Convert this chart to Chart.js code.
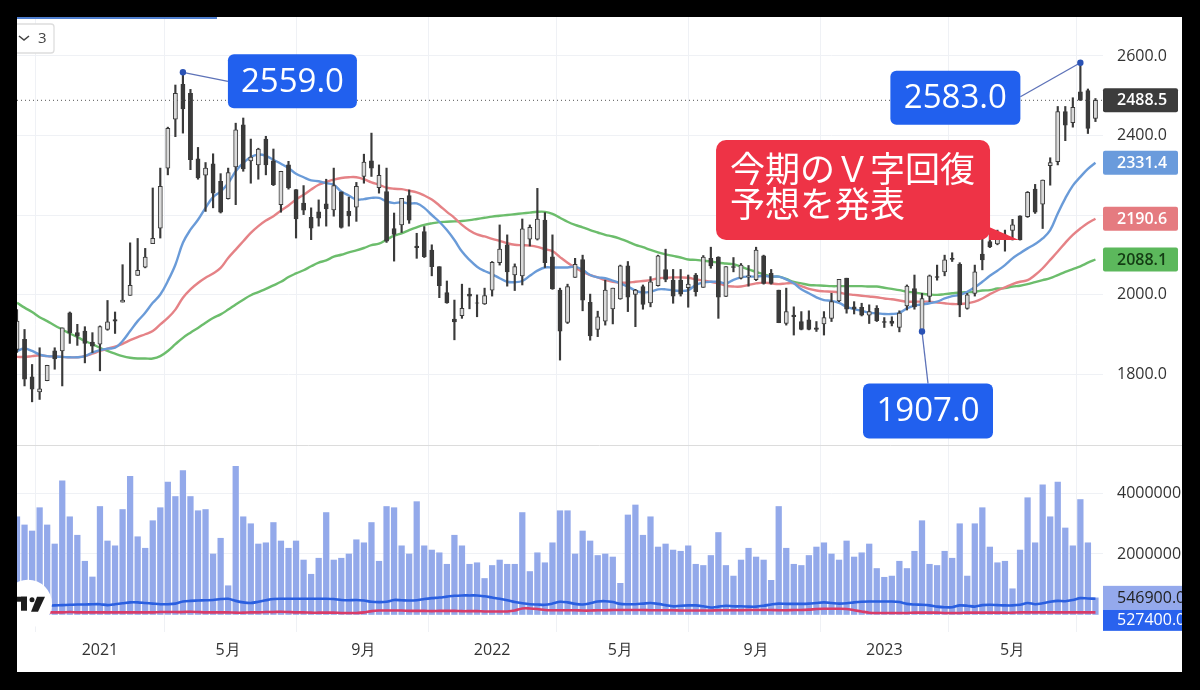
<!DOCTYPE html>
<html>
<head>
<meta charset="utf-8">
<title>chart</title>
<script src="https://cdn.jsdelivr.net/npm/chart.js@4"></script>
<style>
html, body { margin: 0; padding: 0; background: #000; width: 1200px; height: 690px; overflow: hidden; }
#chart { position: absolute; left: 17px; top: 17px; background: #fff; filter: blur(0.45px); }
</style>
</head>
<body>
<canvas id="chart" width="1165" height="655"></canvas>
<script>
var opens = [
    1862,1887,1793,1755,1783,1858,1858,1954,1904,1908,
    1880,1875,1912,1937,1981,1998,2048,2069,2128,2167,
    2318,2441,2529,2506,2341,2300,2329,2285,2241,2321,
    2427,2336,2326,2391,2336,2226,2326,2264,2230,2194,
    2208,2228,2213,2258,2209,2220,2297,2336,2269,2259,
    2166,2175,2249,2122,2158,2112,2070,2005,1938,1947,
    2001,1979,1976,2011,2080,2125,2049,2047,2139,2139,
    2187,2095,2011,1930,2043,2088,1980,1912,1933,1964,
    1989,2072,2000,2020,1979,2022,2063,2036,2036,2017,
    2049,2018,2091,2094,1995,2070,2041,2045,2037,2097,
    2053,2011,1927,1948,1932,1936,1916,1926,1940,1984,
    2041,1969,1968,1948,1965,1932,1933,1917,1971,2015,
    1907,1995,2045,2057,2091,2076,1965,2003,2102,2133,
    2127,2148,2161,2198,2196,2265,2227,2324,2334,2460,
    2432,2510,2513,2443];
var closes = [
    1933,1787,1762,1763,1822,1838,1916,1904,1895,1877,
    1870,1919,1931,1933,1986,2023,2061,2094,2141,2272,
    2418,2506,2467,2339,2293,2318,2255,2207,2307,2414,
    2316,2346,2366,2326,2276,2310,2268,2190,2212,2167,
    2192,2215,2274,2169,2198,2272,2333,2318,2300,2134,
    2151,2242,2187,2118,2095,2070,2022,1979,1931,1965,
    1996,1978,1997,2081,2114,2057,2070,2165,2169,2190,
    2080,2014,1908,2020,2076,1986,1896,1944,2011,2016,
    2072,1993,2011,1975,2032,2097,2038,1996,2001,2026,
    2007,2094,2072,1993,2070,2068,2074,2047,2112,2028,
    2028,1929,1957,1944,1912,1912,1912,1942,1982,2038,
    1963,1963,1948,1957,1934,1930,1927,1953,2021,1969,
    1990,2047,2043,2087,2088,1974,1999,2057,2087,2120,
    2146,2150,2175,2137,2257,2207,2288,2332,2460,2426,
    2471,2489,2418,2488.5];
var highs = [
    1962,1912,1824,1866,1822,1866,1916,1956,1925,1919,
    1904,1921,1985,1956,2075,2130,2141,2116,2268,2318,
    2421,2527,2559,2516,2370,2332,2354,2304,2318,2431,
    2444,2391,2368,2398,2366,2310,2335,2264,2274,2218,
    2238,2290,2318,2258,2245,2282,2353,2406,2326,2318,
    2205,2242,2263,2154,2171,2125,2070,2034,1986,2026,
    2016,1999,2016,2083,2175,2150,2077,2190,2175,2267,
    2206,2150,2016,2026,2091,2099,2001,1958,2036,2016,
    2074,2083,2013,2024,2045,2099,2114,2063,2063,2049,
    2053,2098,2119,2095,2070,2093,2078,2073,2119,2099,
    2063,2011,2016,1969,1957,1959,1932,1957,2003,2038,
    2041,1982,1978,1974,1972,1942,1944,1959,2024,2049,
    2003,2049,2074,2099,2105,2080,2003,2074,2150,2154,
    2162,2162,2189,2198,2259,2277,2288,2344,2473,2473,
    2495,2583,2517,2493];
var lows = [
    1854,1770,1730,1736,1783,1812,1770,1877,1872,1828,
    1854,1808,1910,1902,1981,1998,2048,2067,2128,2142,
    2301,2397,2406,2314,2290,2209,2218,2205,2240,2226,
    2310,2280,2290,2301,2274,2207,2265,2142,2201,2138,
    2172,2172,2197,2167,2172,2184,2280,2297,2255,2131,
    2084,2156,2179,2091,2093,2047,1992,1978,1886,1940,
    1964,1944,1975,1996,2074,2021,2010,2024,2122,2137,
    2068,2013,1835,1927,2043,1959,1885,1894,1923,1926,
    1988,1957,1919,1963,1969,2021,2032,1978,1996,1968,
    1996,2018,2066,1940,1995,2057,2039,2021,2035,2026,
    2026,1929,1923,1898,1911,1911,1907,1898,1932,1982,
    1953,1951,1946,1927,1932,1917,1921,1906,1961,1963,
    1907,1982,2036,2047,2083,1944,1963,1996,2062,2118,
    2125,2109,2137,2137,2194,2204,2166,2275,2326,2387,
    2421,2488,2405,2435];

var maFast = [
    1858,1864,1858,1849,1845,1844,1843,1842,1842,1845,
    1854,1860,1864,1866,1883,1908,1933,1954,1979,2000,
    2034,2075,2130,2163,2188,2218,2245,2259,2280,2310,
    2331,2346,2352,2349,2339,2329,2318,2304,2295,2287,
    2285,2280,2276,2259,2249,2239,2240,2243,2243,2234,
    2230,2232,2229,2229,2218,2200,2183,2162,2137,2108,
    2087,2070,2059,2051,2041,2032,2031,2034,2047,2060,
    2068,2068,2068,2068,2070,2062,2049,2043,2041,2035,
    2028,2020,2010,2005,2007,2013,2013,2010,2009,2011,
    2024,2030,2032,2032,2028,2037,2043,2045,2045,2047,
    2045,2045,2038,2028,2013,2003,1993,1986,1984,1979,
    1969,1963,1959,1954,1953,1951,1951,1954,1965,1972,
    1975,1978,1982,1990,1996,1999,2007,2018,2032,2047,
    2060,2074,2091,2104,2116,2127,2141,2162,2204,2242,
    2274,2296,2316,2331.4];
var maMid = [
    1843,1843,1845,1847,1845,1844,1843,1842,1842,1845,
    1851,1858,1864,1869,1876,1885,1893,1900,1908,1925,
    1941,1962,1992,2013,2029,2042,2053,2067,2092,2113,
    2134,2155,2172,2186,2197,2211,2224,2239,2251,2264,
    2276,2283,2289,2293,2295,2295,2290,2282,2276,2269,
    2266,2265,2261,2257,2249,2239,2224,2208,2193,2175,
    2161,2151,2146,2140,2135,2129,2125,2124,2123,2120,
    2114,2109,2094,2080,2068,2057,2049,2043,2036,2032,
    2030,2030,2032,2034,2036,2041,2042,2043,2043,2042,
    2038,2035,2032,2028,2022,2020,2020,2024,2028,2030,
    2028,2026,2028,2028,2021,2014,2010,2008,2007,2005,
    2001,1999,1997,1995,1993,1990,1988,1985,1982,1982,
    1982,1982,1980,1978,1976,1976,1978,1982,1990,2001,
    2010,2018,2026,2032,2036,2049,2066,2087,2108,2130,
    2150,2166,2180,2190.6];
var maSlow = [
    1979,1967,1956,1943,1933,1922,1912,1902,1893,1883,
    1875,1866,1858,1851,1845,1841,1839,1839,1839,1845,
    1858,1875,1891,1904,1916,1929,1941,1950,1962,1975,
    1987,1998,2006,2014,2023,2032,2044,2053,2061,2071,
    2080,2086,2095,2100,2106,2111,2117,2124,2128,2138,
    2148,2154,2162,2169,2175,2179,2182,2183,2184,2185,
    2187,2190,2193,2196,2198,2200,2202,2204,2206,2208,
    2208,2203,2193,2183,2175,2169,2162,2156,2150,2146,
    2140,2133,2125,2119,2112,2106,2101,2097,2093,2088,
    2087,2085,2083,2080,2078,2076,2070,2063,2057,2051,
    2045,2045,2039,2032,2028,2024,2023,2022,2021,2021,
    2021,2021,2021,2020,2020,2017,2014,2011,2007,2005,
    2002,2000,1999,2001,2003,2005,2006,2007,2010,2011,
    2015,2016,2020,2022,2026,2031,2036,2041,2049,2057,
    2064,2071,2080,2088.1];

// volume pane, in millions of shares
var volume = [
    3.23,2.96,2.76,3.53,2.96,2.33,4.42,3.23,2.62,1.76,
    1.24,3.57,2.43,2.27,3.47,4.57,2.57,2.19,3.10,3.53,
    4.38,3.90,4.76,3.90,3.43,3.47,2.00,2.52,0.95,4.90,
    3.23,3.00,2.33,2.37,3.04,2.43,2.19,2.43,1.80,1.33,
    1.86,3.37,1.80,1.86,2.00,2.47,2.37,3.04,1.76,3.57,
    3.53,2.27,2.00,3.73,2.27,2.13,2.04,1.66,2.62,2.27,
    1.66,1.71,1.19,1.62,1.80,1.66,1.66,3.37,1.42,2.04,
    1.71,2.37,3.43,3.43,2.00,2.76,2.43,1.95,2.00,1.90,
    1.03,3.29,3.62,2.62,3.23,2.23,2.33,2.13,2.09,2.27,
    1.66,1.62,1.95,2.71,1.62,1.27,1.80,2.19,1.90,1.80,
    1.13,3.57,2.19,1.66,1.62,1.95,2.23,2.37,2.00,1.80,
    2.43,1.90,2.04,2.33,1.52,1.23,1.27,1.76,1.52,2.09,
    3.10,1.66,1.62,2.09,1.86,3.00,1.27,3.00,3.53,2.23,
    1.71,1.76,0.85,2.13,3.86,2.37,4.29,3.23,4.38,2.86,
    2.27,3.80,2.37,0.55];
var volLineBlue = [
    .29,.29,.29,.29,.29,.30,.31,.32,.33,.33,
    .34,.34,.31,.34,.37,.40,.40,.38,.36,.34,
    .34,.36,.43,.45,.46,.47,.48,.51,.52,.45,
    .40,.38,.42,.47,.51,.52,.52,.52,.52,.52,
    .52,.52,.51,.48,.47,.48,.46,.42,.41,.42,
    .48,.47,.46,.47,.51,.54,.56,.59,.62,.63,
    .63,.63,.60,.56,.52,.47,.41,.37,.34,.33,
    .32,.36,.42,.40,.35,.33,.37,.43,.44,.41,
    .35,.34,.34,.36,.38,.35,.31,.27,.29,.30,
    .30,.27,.23,.26,.29,.27,.27,.26,.26,.29,
    .33,.36,.35,.35,.35,.36,.38,.40,.38,.36,
    .37,.40,.42,.43,.43,.43,.43,.41,.35,.33,
    .32,.30,.26,.24,.24,.30,.29,.26,.31,.32,
    .31,.30,.30,.32,.38,.34,.37,.42,.45,.44,
    .48,.54,.53,.52];
var volLineRed = [
    .07,.07,.07,.07,.07,.07,.07,.08,.07,.07,
    .07,.07,.07,.07,.07,.07,.07,.07,.07,.08,
    .08,.08,.08,.09,.08,.07,.07,.07,.07,.06,
    .06,.07,.07,.08,.08,.09,.08,.07,.07,.06,
    .06,.06,.06,.05,.05,.05,.07,.11,.13,.13,
    .13,.13,.12,.12,.12,.11,.12,.12,.12,.11,
    .11,.11,.10,.10,.10,.10,.13,.20,.20,.18,
    .15,.14,.14,.14,.14,.13,.13,.14,.14,.15,
    .15,.15,.15,.15,.14,.14,.14,.14,.13,.13,
    .13,.13,.13,.14,.14,.14,.14,.15,.15,.15,
    .15,.14,.14,.15,.15,.16,.18,.19,.19,.19,
    .18,.14,.10,.06,.05,.05,.05,.05,.05,.06,
    .06,.06,.06,.05,.05,.05,.06,.06,.06,.06,
    .06,.06,.06,.07,.07,.07,.07,.07,.07,.07,
    .07,.07,.07,.07];

var categories = [];
for (var w = 0; w < 145; w++) categories.push(w);  // one free slot right of the last candle

var xTickIndex = [11, 28, 46, 63, 80, 98, 115, 132];
var xTickLabels = ["2021", "5月", "9月", "2022", "5月", "9月", "2023", "5月"];
var priceTicks = [1800, 2000, 2200, 2400, 2600];
var volumeTicks = [2000000, 4000000];

var lastVolumeLabel = "546900.0";
var lastAvgLabel = "527400.0";
var noteLines = ["今期のＶ字回復", "予想を発表"];
var noteIndex = 133;
var peakIndex = [22, 141, 120];
var peakValue = [2559, 2583, 1907];

var textFont = '"Open Sans", sans-serif';
var darkCandle = "#3a3a3a";
var lightCandle = "#d9d9d9";

function wickData() {
    return lows.map(function (l, i) { return [l, highs[i]]; });
}

function bodyData() {
    return opens.map(function (o, i) { return [o, closes[i]]; });
}

function roundRect(ctx, x, y, w, h, r, color) {
    ctx.beginPath();
    ctx.roundRect(x, y, w, h, r);
    ctx.fillStyle = color;
    ctx.fill();
}

function drawPill(ctx, chart, y, h, text, bg, fg, weight) {
    var x = chart.chartArea.right;
    roundRect(ctx, x, y - h / 2, 75, h, 2, bg);
    ctx.fillStyle = fg;
    ctx.font = weight + " 16px " + textFont;
    ctx.textAlign = "left";
    ctx.textBaseline = "middle";
    ctx.fillText(text, x + 14, y + 0.5);
}

// blue price callout: dot on the candle, a thin leader, then the box
function drawCallout(ctx, chart, n, dx, dy, w, h, endX, endY) {
    var px = chart.scales.x.getPixelForValue(peakIndex[n]);
    var py = chart.scales.y.getPixelForValue(peakValue[n]);
    ctx.strokeStyle = "#5d72b8";
    ctx.lineWidth = 1.3;
    ctx.beginPath();
    ctx.moveTo(px, py);
    ctx.lineTo(px + endX, py + endY);
    ctx.stroke();
    ctx.beginPath();
    ctx.arc(px, py, 3.2, 0, Math.PI * 2);
    ctx.fillStyle = "#2a52b5";
    ctx.fill();
    roundRect(ctx, px + dx, py + dy, w, h, 6, "#2160ee");
    ctx.fillStyle = "#fff";
    ctx.font = "500 33px " + textFont;
    ctx.textAlign = "center";
    ctx.textBaseline = "middle";
    ctx.fillText(peakValue[n].toFixed(1), px + dx + w / 2, py + dy + h / 2 + 1);
}

function drawNote(ctx, chart) {
    var tipX = chart.scales.x.getPixelForValue(noteIndex);
    var tipY = chart.scales.y.getPixelForValue(lows[noteIndex]);
    var left = tipX - 304, right = tipX - 30, top = tipY - 100;
    ctx.fillStyle = "#ee3346";
    roundRect(ctx, left, top, right - left, 100, 10, "#ee3346");
    ctx.beginPath();
    ctx.moveTo(right - 1, tipY - 13);
    ctx.lineTo(tipX - 1, tipY);
    ctx.lineTo(right - 1, tipY);
    ctx.closePath();
    ctx.fill();
    ctx.fillStyle = "#fff";
    ctx.font = '35px "Noto Sans CJK JP", sans-serif';
    ctx.textAlign = "left";
    ctx.textBaseline = "middle";
    ctx.fillText(noteLines[0], left + 14, top + 29);
    ctx.fillText(noteLines[1], left + 14, top + 64);
}

function drawLogo(ctx, chart) {
    var cy = chart.scales.yVol.getPixelForValue(volLineBlue[0] * 1000000) - 2;
    ctx.beginPath();
    ctx.arc(11, cy, 24, 0, Math.PI * 2);
    ctx.fillStyle = "#fff";
    ctx.fill();
    ctx.fillStyle = "#1c1c1c";
    ctx.fillRect(0, cy - 7, 10, 5);
    ctx.fillRect(4, cy - 7, 6, 14);
    ctx.beginPath();
    ctx.arc(15, cy - 4, 2.5, 0, Math.PI * 2);
    ctx.fill();
    ctx.beginPath();
    ctx.moveTo(20, cy - 7);
    ctx.lineTo(28, cy - 7);
    ctx.lineTo(21, cy + 8);
    ctx.lineTo(14, cy + 8);
    ctx.closePath();
    ctx.fill();
}

var overlayPlugin = {
    id: "overlay",
    afterDraw: function (chart) {
        var ctx = chart.ctx;
        var area = chart.chartArea;
        var y = chart.scales.y;
        var yVol = chart.scales.yVol;
        ctx.save();

        // divider between price and volume panes
        ctx.strokeStyle = "#dcdcdc";
        ctx.lineWidth = 1;
        ctx.beginPath();
        ctx.moveTo(area.left, y.bottom + 0.5);
        ctx.lineTo(chart.width, y.bottom + 0.5);
        ctx.stroke();

        // dotted last price line
        var lastY = y.getPixelForValue(closes[closes.length - 1]);
        ctx.strokeStyle = "#555";
        ctx.setLineDash([1, 3]);
        ctx.beginPath();
        ctx.moveTo(area.left, lastY);
        ctx.lineTo(area.right, lastY);
        ctx.stroke();
        ctx.setLineDash([]);

        drawNote(ctx, chart);
        drawCallout(ctx, chart, 0, 45, -18, 129, 54, 45, 9);
        drawCallout(ctx, chart, 1, -190, 8, 130, 54, -60, 34);
        drawCallout(ctx, chart, 2, -59, 52, 130, 55, 6, 52);

        drawPill(ctx, chart, lastY, 24, closes[closes.length - 1].toFixed(1), "#3c3c3c", "#fff", 600);
        drawPill(ctx, chart, y.getPixelForValue(maFast[maFast.length - 1]), 24, maFast[maFast.length - 1].toFixed(1), "#6a9bdc", "#fff", 600);
        drawPill(ctx, chart, y.getPixelForValue(maMid[maMid.length - 1]), 24, maMid[maMid.length - 1].toFixed(1), "#e57b80", "#fff", 600);
        drawPill(ctx, chart, y.getPixelForValue(maSlow[maSlow.length - 1]), 24, maSlow[maSlow.length - 1].toFixed(1), "#5cb85c", "#143c14", 600);

        // the two volume flags run off the right edge, as in the screenshot
        var volY = yVol.getPixelForValue(volume[volume.length - 1] * 1000000);
        ctx.fillStyle = "#94a9ec";
        ctx.fillRect(area.right, volY - 12, 90, 24);
        ctx.fillStyle = "#2962ee";
        ctx.fillRect(area.right, volY + 12, 90, 21);
        ctx.font = "16px " + textFont;
        ctx.textAlign = "left";
        ctx.textBaseline = "middle";
        ctx.fillStyle = "#222";
        ctx.fillText(lastVolumeLabel, area.right + 14, volY + 0.5);
        ctx.fillStyle = "#fff";
        ctx.fillText(lastAvgLabel, area.right + 14, volY + 22.5);

        drawLogo(ctx, chart);

        // collapsed-indicators button and what is left of the symbol box
        ctx.strokeStyle = "#dddddd";
        ctx.fillStyle = "#fff";
        ctx.beginPath();
        ctx.roundRect(-3, 7, 40, 29, 3);
        ctx.fill();
        ctx.stroke();
        ctx.strokeStyle = "#444";
        ctx.lineWidth = 1.6;
        ctx.beginPath();
        ctx.moveTo(2, 19);
        ctx.lineTo(7, 23);
        ctx.lineTo(12, 19);
        ctx.stroke();
        ctx.fillStyle = "#444";
        ctx.font = "15px " + textFont;
        ctx.textAlign = "left";
        ctx.fillText("3", 21, 22);
        ctx.strokeStyle = "#4f7fd0";
        ctx.lineWidth = 2;
        ctx.beginPath();
        ctx.moveTo(0, 1);
        ctx.lineTo(200, 1);
        ctx.stroke();

        ctx.restore();
    }
};

// labels near the pane edges must not push the plot area in
function fitAxis(axis, w, h) {
    if (w) axis.width = w;
    if (h) axis.height = h;
    axis.paddingTop = 0;
    axis.paddingBottom = 0;
    axis.paddingLeft = 0;
    axis.paddingRight = 0;
}

document.addEventListener("DOMContentLoaded", function () {
    var ctx = document.getElementById("chart").getContext("2d");
    var gridColor = "#eff1f5";
    new Chart(ctx, {
        data: {
            labels: categories,
            datasets: [
                { type: "bar", yAxisID: "y", order: 1, data: bodyData(), barThickness: 4.2, grouped: false,
                    backgroundColor: function (c) { return opens[c.dataIndex] > closes[c.dataIndex] ? darkCandle : lightCandle; },
                    borderColor: darkCandle, borderWidth: 1, borderSkipped: false },
                { type: "bar", yAxisID: "y", order: 2, data: wickData(), barThickness: 1.5, grouped: false,
                    backgroundColor: darkCandle },
                { type: "line", yAxisID: "y", order: 3, data: maFast, borderColor: "#6a9bd8", borderWidth: 2.4, pointRadius: 0, tension: 0.4 },
                { type: "line", yAxisID: "y", order: 4, data: maMid, borderColor: "#e58286", borderWidth: 2.4, pointRadius: 0, tension: 0.4 },
                { type: "line", yAxisID: "y", order: 5, data: maSlow, borderColor: "#6cbd6c", borderWidth: 2.4, pointRadius: 0, tension: 0.4 },
                { type: "line", yAxisID: "yVol", order: 6, data: volLineRed.map(function (v) { return v * 1000000; }), borderColor: "#d93c68", borderWidth: 2.6, pointRadius: 0, tension: 0.3 },
                { type: "line", yAxisID: "yVol", order: 7, data: volLineBlue.map(function (v) { return v * 1000000; }), borderColor: "#2a5fe0", borderWidth: 2.6, pointRadius: 0, tension: 0.3 },
                { type: "bar", yAxisID: "yVol", order: 8, data: volume.map(function (v) { return v * 1000000; }), barThickness: 5.6, grouped: false,
                    backgroundColor: "#93a9ea" }
            ]
        },
        options: {
            responsive: false,
            animation: false,
            events: [],
            layout: { padding: 0 },
            plugins: { legend: { display: false }, tooltip: { enabled: false } },
            scales: {
                x: {
                    type: "category",
                    offset: false,
                    border: { display: false },
                    grid: { color: gridColor, drawTicks: false },
                    afterBuildTicks: function (axis) {
                        axis.ticks = xTickIndex.map(function (v) { return { value: v }; });
                    },
                    afterFit: function (axis) { fitAxis(axis, 0, 40); },
                    ticks: {
                        autoSkip: false, maxRotation: 0, padding: 9,
                        color: "#333", font: { family: textFont, size: 16 },
                        callback: function (value) { return xTickLabels[xTickIndex.indexOf(value)]; }
                    }
                },
                y: {
                    position: "right",
                    stack: "panes",
                    stackWeight: 428,
                    min: 1621.4,
                    max: 2698.1,
                    border: { display: false },
                    grid: { color: gridColor, drawTicks: false },
                    afterBuildTicks: function (axis) {
                        axis.ticks = priceTicks.map(function (v) { return { value: v }; });
                    },
                    afterFit: function (axis) { fitAxis(axis, 79, 0); },
                    ticks: {
                        padding: 14, color: "#333", font: { family: textFont, size: 16 },
                        callback: function (value) { return value.toFixed(1); }
                    }
                },
                yVol: {
                    position: "right",
                    stack: "panes",
                    stackWeight: 187,
                    min: -579000,
                    max: 5603000,
                    border: { display: false },
                    grid: { color: gridColor, drawTicks: false },
                    afterBuildTicks: function (axis) {
                        axis.ticks = volumeTicks.map(function (v) { return { value: v }; });
                    },
                    afterFit: function (axis) { fitAxis(axis, 79, 0); },
                    ticks: {
                        padding: 14, color: "#333", font: { family: textFont, size: 16 },
                        callback: function (value) { return String(value); }
                    }
                }
            }
        },
        plugins: [overlayPlugin]
    });
});
</script>
</body>
</html>
